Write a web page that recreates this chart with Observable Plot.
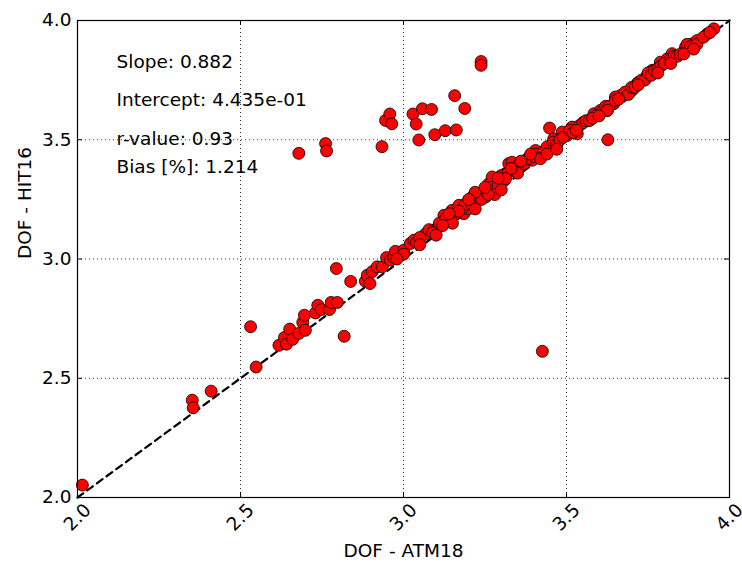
<!DOCTYPE html>
<html><head><meta charset="utf-8">
<script src="https://cdn.jsdelivr.net/npm/d3@7"></script>
<script src="https://cdn.jsdelivr.net/npm/@observablehq/plot@0.6"></script>
<style>body{margin:0;background:#fff}</style>
</head><body><div id="chart"></div>
<script>
// DOF - ATM18 (x) and DOF - HIT16 (y)
const dofAtm18 = [
  2.015, 2.352, 2.355, 2.410, 2.531, 2.548, 2.794, 2.838, 2.818, 3.426,
  2.679, 2.761, 2.764, 2.934, 2.945, 2.958, 2.964, 3.029, 3.039, 3.047,
  3.058, 3.086, 3.096, 3.128, 3.162, 3.157, 3.188, 3.238, 3.238, 3.448, 3.627,
  2.618, 2.635, 2.641, 2.651, 2.660, 2.679, 2.691, 2.696, 2.699, 2.730,
  2.737, 2.748, 2.773, 2.778, 2.797, 2.883, 2.889, 2.897, 2.904, 2.919,
  2.935, 2.948, 2.960, 2.970, 2.996,
  2.975, 3.001, 3.021, 3.032, 3.067, 3.078, 3.093, 3.108, 3.124, 3.139,
  3.149, 3.170, 3.185, 3.200, 3.211, 3.224, 3.236, 3.252, 3.262, 3.272,
  3.282, 3.298, 3.313, 3.323,
  3.040, 3.050, 3.090, 3.110, 3.130, 3.160, 3.180, 3.190, 3.210, 3.230,
  3.240, 3.260, 3.270, 3.290, 3.300, 3.310, 3.320,
  3.313, 3.333, 3.359, 3.395, 3.405, 3.420, 3.451, 3.461, 3.487, 3.502,
  3.517, 3.533, 3.553, 3.584, 3.604, 3.625, 3.645, 3.650,
  3.340, 3.350, 3.370, 3.380, 3.400, 3.410, 3.430, 3.440, 3.460, 3.470,
  3.480, 3.490, 3.510, 3.520, 3.540, 3.550, 3.560, 3.570, 3.590, 3.610,
  3.620, 3.630,
  3.625, 3.650, 3.666, 3.701, 3.717, 3.748, 3.763, 3.788, 3.809, 3.824,
  3.865, 3.886, 3.901, 3.932, 3.952,
  3.670, 3.680, 3.690, 3.700, 3.710, 3.720, 3.730, 3.740, 3.750, 3.760,
  3.770, 3.780, 3.790, 3.800, 3.820, 3.830, 3.840, 3.850, 3.870, 3.880,
  3.900, 3.920, 3.940,
  3.100, 3.150, 3.220, 3.280, 3.350, 3.420, 3.300, 3.050, 3.000, 2.980,
  3.120, 3.170, 3.260, 3.440, 3.470, 3.530, 3.580, 3.600, 3.660, 3.720,
  3.780, 3.820, 3.860, 3.890, 3.220, 3.250, 3.330, 3.360, 3.390, 3.200,
  3.140, 3.290
];
const dofHit16 = [
  2.052, 2.408, 2.376, 2.446, 2.716, 2.547, 2.960, 2.906, 2.676, 2.613,
  3.443, 3.484, 3.453, 3.471, 3.581, 3.608, 3.567, 3.608, 3.566, 3.499,
  3.630, 3.627, 3.521, 3.538, 3.541, 3.685, 3.631, 3.828, 3.812, 3.549, 3.500,
  2.638, 2.671, 2.643, 2.706, 2.663, 2.688, 2.734, 2.764, 2.701, 2.774,
  2.806, 2.788, 2.788, 2.818, 2.818, 2.907, 2.932, 2.897, 2.947, 2.967,
  2.967, 3.006, 2.995, 3.009, 3.031,
  3.032, 3.037, 3.065, 3.079, 3.104, 3.123, 3.120, 3.137, 3.183, 3.162,
  3.204, 3.225, 3.190, 3.211, 3.260, 3.246, 3.274, 3.260, 3.316, 3.344,
  3.295, 3.330, 3.358, 3.400,
  3.070, 3.090, 3.110, 3.150, 3.170, 3.190, 3.210, 3.230, 3.230, 3.270,
  3.250, 3.290, 3.300, 3.310, 3.350, 3.330, 3.360,
  3.337, 3.406, 3.393, 3.414, 3.455, 3.435, 3.476, 3.504, 3.532, 3.518,
  3.553, 3.525, 3.574, 3.609, 3.623, 3.623, 3.651, 3.679,
  3.370, 3.390, 3.400, 3.420, 3.430, 3.440, 3.450, 3.470, 3.490, 3.480,
  3.500, 3.510, 3.540, 3.530, 3.560, 3.570, 3.580, 3.580, 3.600, 3.620,
  3.640, 3.640,
  3.623, 3.665, 3.686, 3.707, 3.735, 3.770, 3.791, 3.825, 3.839, 3.861,
  3.888, 3.902, 3.916, 3.944, 3.965,
  3.680, 3.700, 3.690, 3.720, 3.720, 3.740, 3.750, 3.750, 3.780, 3.770,
  3.790, 3.800, 3.810, 3.820, 3.840, 3.850, 3.850, 3.860, 3.900, 3.890,
  3.900, 3.930, 3.950,
  3.100, 3.150, 3.210, 3.270, 3.360, 3.420, 3.290, 3.060, 3.020, 3.000,
  3.140, 3.200, 3.270, 3.440, 3.460, 3.540, 3.590, 3.600, 3.670, 3.730,
  3.780, 3.820, 3.860, 3.880, 3.280, 3.300, 3.380, 3.410, 3.440, 3.250,
  3.190, 3.340
];
const tickValues = [2.0, 2.5, 3.0, 3.5, 4.0];
const gridValues = [2.5, 3.0, 3.5];
const diagonal = [2.0, 4.0];
const statLabels = ["Slope: 0.882", "Intercept: 4.435e-01", "r-value: 0.93", "Bias [%]: 1.214"];
const xLabel = "DOF - ATM18";
const yLabel = "DOF - HIT16";

const points = dofAtm18.map((x, i) => ({x, y: dofHit16[i]}));
const W = 742, H = 562, mL = 77, mR = 13, mT = 20, mB = 65;
const innerW = W - mL - mR, innerH = H - mT - mB;
const statDy = [42, 80, 119, 147];

const chart = Plot.plot({
  width: W, height: H,
  marginLeft: mL, marginRight: mR, marginTop: mT, marginBottom: mB,
  x: {domain: [2, 4], axis: null},
  y: {domain: [2, 4], axis: null},
  style: {fontFamily: "'DejaVu Sans', sans-serif", fontSize: "18.5px", color: "black", background: "white"},
  marks: [
    Plot.ruleX(gridValues, {x: d => d, stroke: "black", strokeOpacity: 0.8, strokeWidth: 1, strokeDasharray: "1,3"}),
    Plot.ruleY(gridValues, {y: d => d, stroke: "black", strokeOpacity: 0.8, strokeWidth: 1, strokeDasharray: "1,3"}),
    Plot.line(diagonal, {x: d => d, y: d => d, stroke: "black", strokeWidth: 2.2, strokeDasharray: "7,5"}),
    Plot.dot(points, {x: "x", y: "y", r: 6, fill: "#ff0000", stroke: "black", strokeWidth: 0.8}),
    Plot.frame({stroke: "black", strokeWidth: 1.2}),
    Plot.tickX(tickValues, {x: d => d, insetTop: innerH - 5, stroke: "black"}),
    Plot.tickX(tickValues, {x: d => d, insetBottom: innerH - 5, stroke: "black"}),
    Plot.tickY(tickValues, {y: d => d, insetRight: innerW - 5, stroke: "black"}),
    Plot.tickY(tickValues, {y: d => d, insetLeft: innerW - 5, stroke: "black"}),
    Plot.text(tickValues, {y: d => d, frameAnchor: "left", dx: -6, textAnchor: "end", lineAnchor: "middle", text: d => d.toFixed(1), fill: "black"}),
    Plot.text(tickValues, {x: d => d, frameAnchor: "bottom", dy: 20, rotate: -45, textAnchor: "middle", lineAnchor: "middle", text: d => d.toFixed(1), fill: "black"}),
    Plot.text([xLabel], {frameAnchor: "bottom", dy: 54, lineAnchor: "middle", text: d => d, fill: "black"}),
    Plot.text([yLabel], {frameAnchor: "left", dx: -52, rotate: -90, lineAnchor: "middle", text: d => d, fill: "black"}),
    ...statLabels.map((s, i) => Plot.text([s], {frameAnchor: "top-left", dx: 39, dy: statDy[i], textAnchor: "start", lineAnchor: "middle", text: d => d, fill: "black"}))
  ]
});
document.getElementById("chart").appendChild(chart);
</script>
</body></html>
